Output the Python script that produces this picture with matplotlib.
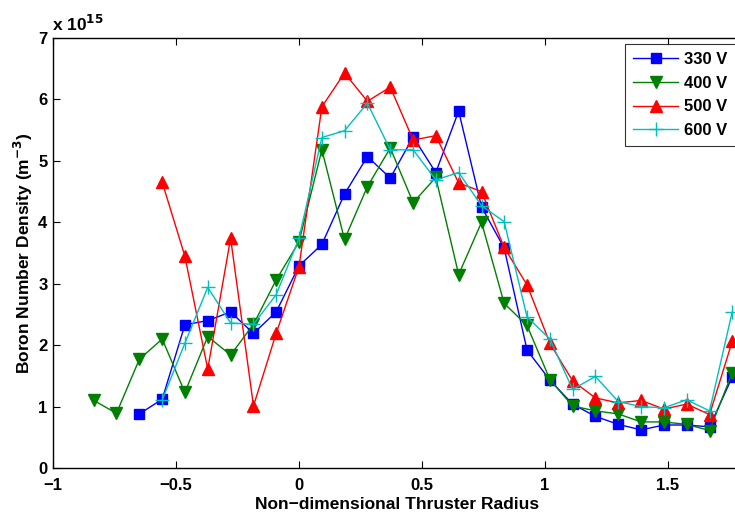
import matplotlib
matplotlib.use("Agg")
import matplotlib.pyplot as plt

# radial positions (non-dimensional)
x_all = [-0.834, -0.742, -0.649, -0.556, -0.464, -0.371, -0.278, -0.185, -0.093,
         0.0, 0.093, 0.185, 0.278, 0.371, 0.464, 0.556, 0.649, 0.742, 0.834,
         0.927, 1.020, 1.112, 1.205, 1.298, 1.391, 1.483, 1.576, 1.669, 1.761]

# boron number density, units of 1e15 m^-3
v330 = [0.88, 1.12, 2.33, 2.40, 2.54, 2.19, 2.54, 3.29, 3.64, 4.46, 5.07, 4.72, 5.39,
        4.81, 5.81, 4.25, 3.58, 1.92, 1.43, 1.04, 0.84, 0.71, 0.62, 0.70, 0.70, 0.67, 1.48]
v400 = [1.10, 0.89, 1.77, 2.10, 1.23, 2.14, 1.84, 2.34, 3.06, 3.68, 5.18, 3.72, 4.58, 5.21,
        4.32, 4.73, 3.15, 4.00, 2.68, 2.32, 1.44, 1.01, 0.93, 0.88, 0.75, 0.75, 0.71, 0.61, 1.55]
v500 = [4.65, 3.45, 1.61, 3.74, 1.01, 2.19, 3.28, 5.88, 6.43, 5.97, 6.20, 5.34, 5.41,
        4.64, 4.50, 3.59, 2.98, 2.03, 1.42, 1.14, 1.06, 1.10, 0.96, 1.04, 0.87, 2.06]
v600 = [1.11, 2.03, 2.94, 2.36, 2.34, 2.82, 3.74, 5.38, 5.49, 5.94, 5.18, 5.18, 4.69,
        4.81, 4.27, 4.01, 2.46, 2.10, 1.28, 1.49, 1.08, 1.00, 0.98, 1.11, 0.93, 2.54]

plt.rcParams['font.family'] = ['Liberation Sans', 'DejaVu Sans']
plt.rcParams['font.weight'] = 'bold'

fig = plt.figure(figsize=(7.35, 5.15), dpi=100)
# axes run a little past the right edge (the original picture is cropped there)
ax = fig.add_axes([53 / 735, 47 / 515, 2.8 * 246 / 735, 430 / 515])

ax.plot(x_all[-len(v330):], v330, '-s', color=(0, 0, 1), lw=1, ms=7, label='330 V')
ax.plot(x_all[-len(v400):], v400, '-v', color=(0, 0.5, 0), lw=1, ms=8, label='400 V')
ax.plot(x_all[-len(v500):], v500, '-^', color=(1, 0, 0), lw=1, ms=8, label='500 V')
ax.plot(x_all[-len(v600):], v600, '-+', color=(0, 0.75, 0.75), lw=1, ms=10, mew=1, label='600 V')

ax.set_xlim(-1, 1.8)
ax.set_ylim(0, 7)
ax.set_xticks([-1, -0.5, 0, 0.5, 1, 1.5])
ax.set_xticklabels(['\u22121', '\u22120.5', '0', '0.5', '1', '1.5'])
ax.set_yticks(range(8))
ax.tick_params(direction='in', top=True, right=True, length=5, width=0.8,
               labelsize=12, pad=4)
ax.tick_params(axis='x', pad=7)
for lab in ax.get_xticklabels() + ax.get_yticklabels():
    lab.set_fontweight('bold')
for sp in ax.spines.values():
    sp.set_linewidth(1.0)

ax.set_xlabel('Non\u2212dimensional Thruster Radius', fontsize=12.5, fontweight='bold', labelpad=3)
ax.set_ylabel('Boron Number Density (m$^{\\mathbf{-3}}$)', fontsize=12.5, fontweight='bold', labelpad=2)
fig.text(52 / 735, 1 - 24 / 515, 'x 10$^{\\mathbf{15}}$', fontsize=12.5, fontweight='bold',
         va='center', ha='left')

leg = ax.legend(loc='upper right', fontsize=12, frameon=True, fancybox=False,
                edgecolor='black', borderpad=0.5, handlelength=2.7, handletextpad=0.35,
                labelspacing=0.52, borderaxespad=0.35)
leg.get_frame().set_linewidth(0.8)
for t in leg.get_texts():
    t.set_fontweight('bold')

fig.savefig('out.png', dpi=100)
